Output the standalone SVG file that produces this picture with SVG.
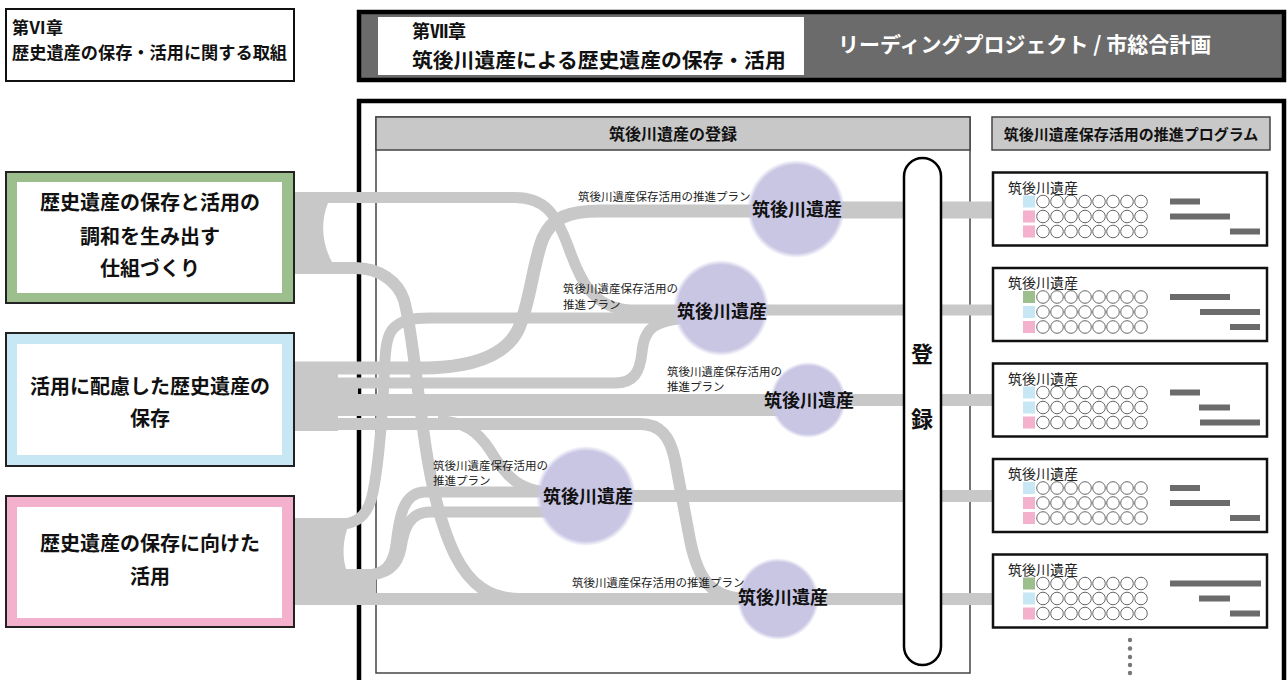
<svg xmlns="http://www.w3.org/2000/svg" width="1287" height="680" viewBox="0 0 1287 680">
<style>
text { font-family: "Noto Sans CJK JP", "Noto Sans", sans-serif; fill: #111; }
.b { font-weight: 700; }
.flow { fill: none; stroke: #c8c8c8; stroke-linecap: butt; stroke-linejoin: round; }
.blk { fill: #c8c8c8; }
.lbl { font-size: 11.5px; fill: #222; }
.nt { font-size: 18px; font-weight: 700; text-anchor: middle; }
.bt { font-size: 20px; font-weight: 700; text-anchor: middle; }
.card { fill: #fff; stroke: #111; stroke-width: 2.5; }
.ct { font-size: 14px; fill: #222; }
.bar { fill: #6b6b6b; }
.sb { fill: #c6e7f3; } .sp { fill: #f4b1ce; } .sg { fill: #9dbf8e; }
.oc { fill: #fff; stroke: #666; stroke-width: 1; }
.hd { fill: #c8c8c8; stroke: #444; stroke-width: 1.5; }
</style>
<defs>
<radialGradient id="ng">
<stop offset="0" stop-color="#c9c6e4"/>
<stop offset="0.9" stop-color="#c9c6e4"/>
<stop offset="1" stop-color="#c9c6e4" stop-opacity="0"/>
</radialGradient>
<g id="row">
<circle class="oc" cx="0" cy="0" r="6.3"/><circle class="oc" cx="14" cy="0" r="6.3"/><circle class="oc" cx="28" cy="0" r="6.3"/><circle class="oc" cx="42" cy="0" r="6.3"/><circle class="oc" cx="56" cy="0" r="6.3"/><circle class="oc" cx="70" cy="0" r="6.3"/><circle class="oc" cx="84" cy="0" r="6.3"/><circle class="oc" cx="98" cy="0" r="6.3"/>
</g>
</defs>
<rect width="1287" height="680" fill="#fff"/>

<g id="chapter6">
<rect x="6" y="9" width="288" height="72" fill="#fff" stroke="#111" stroke-width="2"/>
<text x="12" y="34" font-size="17" class="b">第Ⅵ章</text>
<text x="12" y="59" font-size="17.2" class="b">歴史遺産の保存・活用に関する取組</text>
</g>

<g id="chapter7">
<rect x="359" y="12" width="925" height="68" fill="#6b6b6b" stroke="#000" stroke-width="4.5"/>
<rect x="378" y="17" width="426" height="58" fill="#fff"/>
<text x="412" y="38" font-size="18" class="b">第Ⅶ章</text>
<text x="412" y="68" font-size="20.8" class="b">筑後川遺産による歴史遺産の保存・活用</text>
<text x="838" y="52" font-size="21" class="b" style="fill:#fff">リーディングプロジェクト / 市総合計画</text>
</g>

<g id="frame">
<rect x="359" y="101" width="925" height="620" fill="#fff" stroke="#000" stroke-width="4.5"/>
<rect x="376" y="117" width="594" height="556" fill="#fff" stroke="#444" stroke-width="1.5"/>
<rect class="hd" x="376" y="117" width="594" height="33"/>
<text x="673" y="140" font-size="16" class="b" text-anchor="middle">筑後川遺産の登録</text>
<rect class="hd" x="992" y="117" width="278" height="33"/>
<text x="1131" y="140" font-size="15" class="b" text-anchor="middle">筑後川遺産保存活用の推進プログラム</text>
</g>

<g id="connectors">
<path class="blk" d="M294,192 H340 V203 H328 C321,220 321,242 332,262 H340 V274 H294 Z"/>
<path class="blk" d="M294,362 H338 V388 H358 V394 H338 V431 H294 Z"/>
<path class="blk" d="M294,518 H352 C344,532 341,552 346,569 H376 V605 H294 Z"/>
<path class="flow" stroke-width="11" d="M294,197.5 H515 C545,197.5 556,214 568,246 C580,280 592,308 630,310 H690"/>
<path class="flow" stroke-width="13" d="M294,368 H420 C470,368 505,356 518,330 C530,305 533,262 543,238 C552,218 568,211 600,211 H770"/>
<path class="flow" stroke-width="17" d="M790,210 H992"/>
<path class="flow" stroke-width="11" d="M294,383 H615 C634,383 640,372 642,352 C644,330 652,320 690,318"/>
<path class="flow" stroke-width="11" d="M294,524 H340 C360,524 369,512 373,492 C379,462 382,420 384,380 C385,352 386,338 392,330 C400,320 412,318 430,318 H690"/>
<path class="flow" stroke-width="11" d="M720,310 H992"/>
<path class="flow" stroke-width="22" d="M294,405 H790"/>
<path class="flow" stroke-width="12" d="M800,400 H992"/>
<path class="flow" stroke-width="12" d="M294,424 H640 C660,424 670,436 675,460 L690,540 C698,580 712,598 745,599"/>
<path class="flow" stroke-width="11" d="M438,421 C465,421 478,432 490,450 C505,475 518,493 560,493"/>
<path class="flow" stroke-width="12" d="M294,268 H355 C380,268 398,282 404,300 C412,330 416,380 422,420 C428,470 438,520 455,555 C470,585 490,599 520,599 H745"/>
<path class="flow" stroke-width="11" d="M294,575 H365 C385,575 393,565 396,545 C399,518 403,492 425,492 H560"/>
<path class="flow" stroke-width="11" d="M294,575 H365 C388,575 398,565 401,548 C404,528 410,512 430,512 H560"/>
<path class="flow" stroke-width="12" d="M294,599 H745"/>
<path class="flow" stroke-width="12" d="M586,496 H992"/>
<path class="flow" stroke-width="12" d="M778,599 H992"/>
</g>

<g id="goal-green">
<rect x="6" y="172" width="288" height="131" fill="#9dbf8e" stroke="#222" stroke-width="2"/>
<rect x="17" y="182" width="265" height="111" fill="#fff"/>
<text class="bt" x="150" y="210">歴史遺産の保存と活用の</text>
<text class="bt" x="150" y="244">調和を生み出す</text>
<text class="bt" x="150" y="276">仕組づくり</text>
</g>
<g id="goal-blue">
<rect x="6" y="333" width="288" height="133" fill="#c6e7f3" stroke="#222" stroke-width="2"/>
<rect x="17" y="344" width="265" height="111" fill="#fff"/>
<text class="bt" x="150" y="394">活用に配慮した歴史遺産の</text>
<text class="bt" x="150" y="426">保存</text>
</g>
<g id="goal-pink">
<rect x="6" y="496" width="288" height="131" fill="#f4b1ce" stroke="#222" stroke-width="2"/>
<rect x="17" y="507" width="265" height="111" fill="#fff"/>
<text class="bt" x="150" y="551">歴史遺産の保存に向けた</text>
<text class="bt" x="150" y="584">活用</text>
</g>

<g id="node1"><circle cx="796" cy="209" r="49" fill="url(#ng)"/><text class="nt" x="797" y="216">筑後川遺産</text></g>
<g id="node2"><circle cx="721" cy="308" r="48" fill="url(#ng)"/><text class="nt" x="722" y="318">筑後川遺産</text></g>
<g id="node3"><circle cx="808" cy="400" r="38" fill="url(#ng)"/><text class="nt" x="809" y="407">筑後川遺産</text></g>
<g id="node4"><circle cx="586" cy="496" r="50" fill="url(#ng)"/><text class="nt" x="588" y="503">筑後川遺産</text></g>
<g id="node5"><circle cx="778" cy="599" r="41" fill="url(#ng)"/><text class="nt" x="783" y="604">筑後川遺産</text></g>

<g id="registration">
<rect x="904" y="158" width="37" height="507" rx="18.5" fill="#fff" stroke="#000" stroke-width="2.5"/>
<text x="922" y="362" font-size="22" class="b" text-anchor="middle">登</text>
<text x="922" y="427" font-size="22" class="b" text-anchor="middle">録</text>
</g>

<g id="labels">
<text class="lbl" x="578" y="201">筑後川遺産保存活用の推進プラン</text>
<text class="lbl" x="563" y="293">筑後川遺産保存活用の</text>
<text class="lbl" x="563" y="309">推進プラン</text>
<text class="lbl" x="667" y="376">筑後川遺産保存活用の</text>
<text class="lbl" x="667" y="391">推進プラン</text>
<text class="lbl" x="433" y="470">筑後川遺産保存活用の</text>
<text class="lbl" x="433" y="485">推進プラン</text>
<text class="lbl" x="572" y="587">筑後川遺産保存活用の推進プラン</text>
</g>

<g id="card1" transform="translate(0,172.5)">
<rect class="card" x="993" y="0" width="274" height="73"/>
<text class="ct" x="1008" y="20">筑後川遺産</text>
<rect class="sb" x="1023" y="23" width="12" height="12"/><use href="#row" x="1043" y="29"/>
<rect class="sp" x="1023" y="38" width="12" height="12"/><use href="#row" x="1043" y="44"/>
<rect class="sp" x="1023" y="53" width="12" height="12"/><use href="#row" x="1043" y="59"/>
<rect class="bar" x="1170" y="26" width="30" height="6"/>
<rect class="bar" x="1170" y="41" width="60" height="6"/>
<rect class="bar" x="1230" y="56" width="30" height="6"/>
</g>
<g id="card2" transform="translate(0,268)">
<rect class="card" x="993" y="0" width="274" height="73"/>
<text class="ct" x="1008" y="20">筑後川遺産</text>
<rect class="sg" x="1023" y="23" width="12" height="12"/><use href="#row" x="1043" y="29"/>
<rect class="sb" x="1023" y="38" width="12" height="12"/><use href="#row" x="1043" y="44"/>
<rect class="sp" x="1023" y="53" width="12" height="12"/><use href="#row" x="1043" y="59"/>
<rect class="bar" x="1170" y="26" width="60" height="6"/>
<rect class="bar" x="1200" y="41" width="60" height="6"/>
<rect class="bar" x="1230" y="56" width="30" height="6"/>
</g>
<g id="card3" transform="translate(0,363.5)">
<rect class="card" x="993" y="0" width="274" height="73"/>
<text class="ct" x="1008" y="20">筑後川遺産</text>
<rect class="sb" x="1023" y="23" width="12" height="12"/><use href="#row" x="1043" y="29"/>
<rect class="sb" x="1023" y="38" width="12" height="12"/><use href="#row" x="1043" y="44"/>
<rect class="sp" x="1023" y="53" width="12" height="12"/><use href="#row" x="1043" y="59"/>
<rect class="bar" x="1170" y="26" width="30" height="6"/>
<rect class="bar" x="1199" y="41" width="31" height="6"/>
<rect class="bar" x="1200" y="56" width="60" height="6"/>
</g>
<g id="card4" transform="translate(0,459)">
<rect class="card" x="993" y="0" width="274" height="73"/>
<text class="ct" x="1008" y="20">筑後川遺産</text>
<rect class="sb" x="1023" y="23" width="12" height="12"/><use href="#row" x="1043" y="29"/>
<rect class="sp" x="1023" y="38" width="12" height="12"/><use href="#row" x="1043" y="44"/>
<rect class="sp" x="1023" y="53" width="12" height="12"/><use href="#row" x="1043" y="59"/>
<rect class="bar" x="1170" y="26" width="30" height="6"/>
<rect class="bar" x="1170" y="41" width="60" height="6"/>
<rect class="bar" x="1230" y="56" width="30" height="6"/>
</g>
<g id="card5" transform="translate(0,554.5)">
<rect class="card" x="993" y="0" width="274" height="73"/>
<text class="ct" x="1008" y="20">筑後川遺産</text>
<rect class="sg" x="1023" y="23" width="12" height="12"/><use href="#row" x="1043" y="29"/>
<rect class="sb" x="1023" y="38" width="12" height="12"/><use href="#row" x="1043" y="44"/>
<rect class="sp" x="1023" y="53" width="12" height="12"/><use href="#row" x="1043" y="59"/>
<rect class="bar" x="1170" y="26" width="91" height="6"/>
<rect class="bar" x="1199" y="41" width="31" height="6"/>
<rect class="bar" x="1230" y="56" width="30" height="6"/>
</g>
<g id="more" fill="#777">
<circle cx="1130" cy="640" r="2.2"/><circle cx="1130" cy="648.5" r="2.2"/><circle cx="1130" cy="657" r="2.2"/><circle cx="1130" cy="665" r="2.2"/><circle cx="1130" cy="673" r="2.2"/>
</g>
</svg>
